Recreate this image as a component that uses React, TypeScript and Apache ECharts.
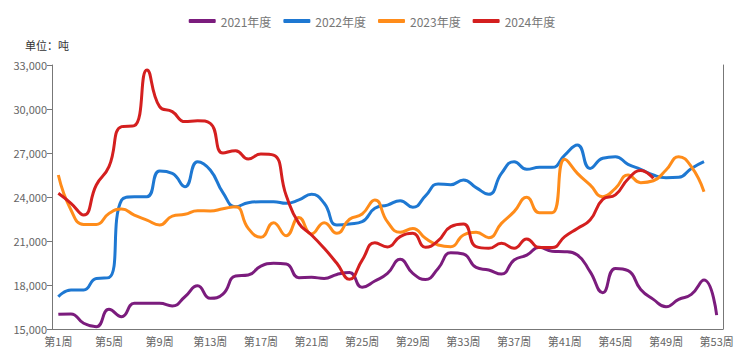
import React, { useEffect, useRef } from "react";
import * as echarts from "echarts";

const weeks: string[] = Array.from({ length: 53 }, (_, i) => `第${i + 1}周`);

const legendNames = ["2021年度", "2022年度", "2023年度", "2024年度"];

const data2021 = [
  16000, 16030, 15390, 15160, 16340, 15840, 16750, 16750, 16750, 16570,
  17200, 17950, 17090, 17380, 18610, 18680, 19290, 19480, 19430, 18500,
  18520, 18450, 18720, 18860, 17840, 18270, 18790, 19750, 18790, 18380,
  19130, 20200, 20110, 19200, 19020, 18750, 19700, 20040, 20570, 20300,
  20270, 20040, 18910, 17480, 19130, 18980, 17700, 17020, 16520, 17020,
  17360, 18340, 15950,
];

const data2022 = [
  17200, 17660, 17660, 18450, 18500, 23800, 24020, 24020, 25770, 25610,
  24700, 26410, 25840, 24300, 23340, 23610, 23680, 23680, 23570, 23800,
  24180, 23570, 22090, 22160, 22320, 23230, 23450, 23750, 23300, 24070,
  24890, 24840, 25160, 24640, 24180, 25610, 26410, 25890, 26020, 26020,
  26860, 27550, 25950, 26640, 26750, 26230, 25890, 25500, 25320, 25340,
  25950, 26410,
];

const data2023 = [
  25500, 23110, 22130, 22130, 22880, 23180, 22770, 22430, 22090, 22700,
  22820, 23070, 23050, 23200, 23340, 21860, 21250, 22250, 21360, 22610,
  21480, 22250, 21520, 22480, 22840, 23800, 22300, 21590, 21860, 21180,
  20730, 20610, 21410, 21590, 21230, 22200, 23000, 23980, 22930, 22930,
  26570, 25610, 24820, 24020, 24590, 25500, 24980, 25110, 25840, 26750,
  26070, 24360,
];

const data2024 = [
  24250, 23570, 22770, 24820, 26070, 28800, 28860, 32660, 30160, 29820,
  29140, 29200, 29020, 27000, 27160, 26590, 26930, 26860, 24100, 22200,
  21410, 20500, 19480, 18390, 19700, 20880, 20590, 21300, 21520, 20570,
  21020, 21980, 22160, 20610, 20500, 20840, 20500, 21140, 20550, 20550,
  21300, 21860, 22430, 23840, 24140, 25230, 25800, 25270,
];

const colors = ["#7B1C7D", "#1E78D2", "#FF8C1A", "#D41F1F"];
const seriesData = [data2021, data2022, data2023, data2024];

export default function App() {
  const ref = useRef<HTMLDivElement>(null);
  useEffect(() => {
    if (!ref.current) return;
    const chart = echarts.init(ref.current, undefined, { renderer: "svg" });
    const fontFamily = "'Noto Sans CJK SC', sans-serif";
    chart.setOption({
      animation: false,
      textStyle: { fontFamily },
      legend: {
        top: 10,
        left: "center",
        icon: "roundRect",
        itemWidth: 27,
        itemHeight: 4,
        itemGap: 12,
        textStyle: { color: "#777", fontSize: 12, fontFamily },
        data: legendNames,
      },
      title: {
        text: "单位：吨",
        left: 20,
        top: 34,
        textStyle: { fontSize: 11, fontWeight: "normal", color: "#333", fontFamily },
      },
      grid: { left: 52, right: 21, top: 65, bottom: 28, containLabel: false },
      xAxis: {
        type: "category",
        data: weeks,
        boundaryGap: true,
        axisLine: { lineStyle: { color: "#777" } },
        axisTick: { interval: 3, lineStyle: { color: "#777" } },
        axisLabel: { interval: 3, color: "#666", fontSize: 11, margin: 6, fontFamily },
      },
      yAxis: [
        {
          type: "value",
          min: 15000,
          max: 33000,
          interval: 3000,
          splitLine: { show: false },
          axisLine: { show: true, lineStyle: { color: "#777" } },
          axisTick: { show: true, lineStyle: { color: "#777" } },
          axisLabel: {
            color: "#666",
            fontSize: 11,
            margin: 5,
            fontFamily,
            formatter: (v: number) => v.toLocaleString("en-US"),
          },
        },
        {
          type: "value",
          min: 15000,
          max: 33000,
          interval: 3000,
          position: "right",
          splitLine: { show: false },
          axisLine: { show: true, lineStyle: { color: "#777" } },
          axisTick: { show: false },
          axisLabel: { show: false },
        },
      ],
      series: seriesData.map((d, i) => ({
        name: legendNames[i],
        type: "line",
        data: d,
        smooth: true,
        showSymbol: false,
        symbol: "none",
        lineStyle: { width: 3, color: colors[i] },
        itemStyle: { color: colors[i] },
      })),
    });
    return () => chart.dispose();
  }, []);
  return <div ref={ref} style={{ width: 744, height: 357, margin: -8 }} />;
}
